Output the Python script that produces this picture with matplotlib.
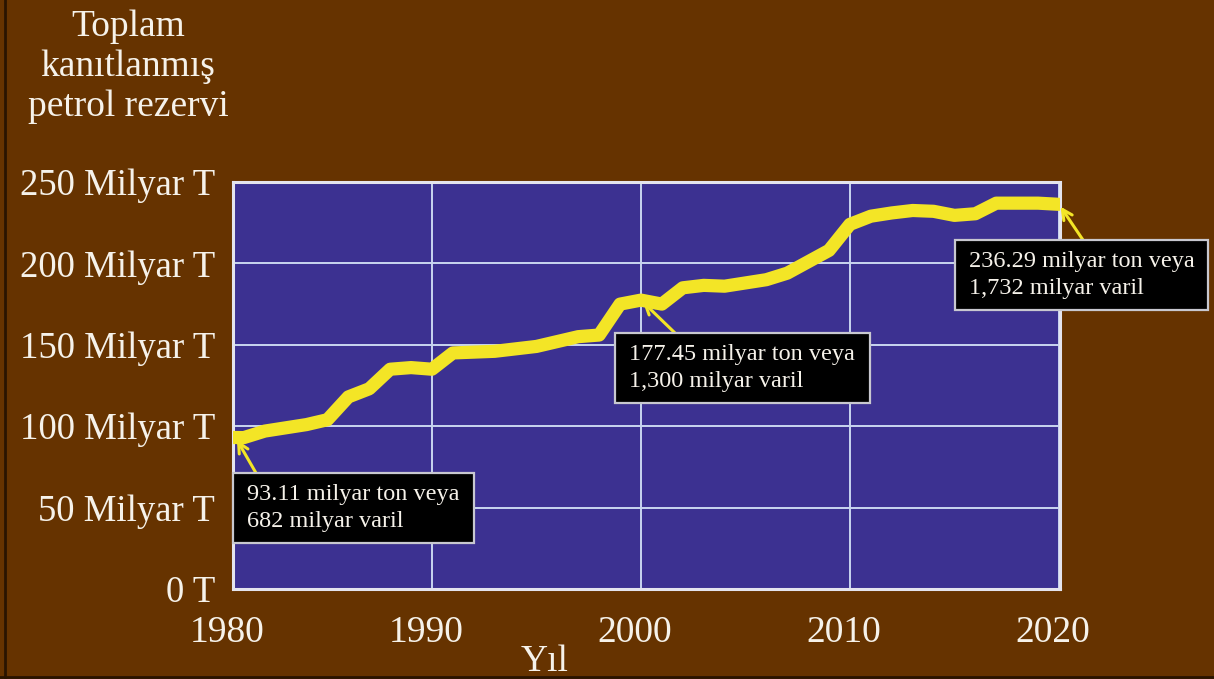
import matplotlib
matplotlib.use("Agg")
import matplotlib.pyplot as plt
import matplotlib.transforms as mtransforms
from matplotlib.lines import Line2D

years = list(range(1980, 2021))
reserves = [93.11, 93, 97, 99, 101, 104, 118, 123, 135, 136,
            135, 145, 145.5, 146, 147.5, 149, 152, 155, 156, 175,
            177.45, 175, 185, 186.5, 186, 188, 190, 194, 201, 208,
            224, 229, 231, 232.5, 232, 229.5, 230.5, 237, 237, 237,
            236.29]

y_ticks = [0, 50, 100, 150, 200, 250]
y_labels = ["0 T", "50 Milyar T", "100 Milyar T", "150 Milyar T", "200 Milyar T", "250 Milyar T"]
x_ticks = [1990, 2000, 2010, 2020]
x_labels = ["1980", "1990", "2000", "2010", "2020"]

notes = [
    (1980.6, 93.11, "93.11 milyar ton veya\n682 milyar varil"),
    (2000, 177.45, "177.45 milyar ton veya\n1,300 milyar varil"),
    (2020, 236.29, "236.29 milyar ton veya\n1,732 milyar varil"),
]

BROWN = "#663300"
BLUE = "#3c3191"
YELLOW = "#f3e526"
TXT = "#f6f2ea"
FONT = "Liberation Serif"

W, H = 1214, 679
fig = plt.figure(figsize=(W / 100, H / 100), dpi=100, facecolor=BROWN)
ax = fig.add_axes([233 / W, 1 - 589 / H, (1060 - 233) / W, (589 - 182) / H])
ax.set_facecolor(BLUE)

xmin, xmax = 1980.48, 2020.05
ax.set_xlim(xmin, xmax)
ax.set_ylim(0, 250)

ax.plot(years, reserves, color=YELLOW, lw=9.5, solid_joinstyle="round",
        solid_capstyle="round", zorder=3)

ax.set_xticks([xmin] + x_ticks)
ax.set_xticklabels(x_labels, fontsize=27, color=TXT, family=FONT)
ax.set_yticks(y_ticks)
ax.set_yticklabels(y_labels, fontsize=26.5, color=TXT, family=FONT)
ax.tick_params(axis="x", length=0, pad=19)
ax.tick_params(axis="y", length=0, pad=13)
offset = mtransforms.ScaledTranslation(-6 / 100, 0, fig.dpi_scale_trans)
for lab in ax.get_xticklabels():
    lab.set_transform(lab.get_transform() + offset)

ax.grid(True, color="#c9d6f0", lw=1.4)
ax.set_axisbelow(True)
for s in ax.spines.values():
    s.set_color("#e4e4ee")
    s.set_linewidth(2.2)

# annotation boxes: (left, top, right, bottom) in image pixels, arrow start
boxes = [(233, 473, 474, 543, 256), (615, 333, 870, 403, 675), (955, 240, 1208, 310, 1083)]
for (xd, yd, txt), (l, t, r, b, ax0) in zip(notes, boxes):
    rect = plt.Rectangle((l / W, 1 - b / H), (r - l) / W, (b - t) / H,
                         transform=fig.transFigure, facecolor="black",
                         edgecolor="#c8c8d0", lw=1.6, zorder=5)
    fig.patches.append(rect)
    fig.text((l + 14) / W, 1 - (t + b) / 2 / H, txt, fontsize=17.5, color=TXT,
             family=FONT, va="center", ha="left", linespacing=1.33, zorder=6)
    ax.annotate("", xy=(xd, yd), xycoords="data",
                xytext=(ax0, H - t), textcoords="figure pixels",
                arrowprops=dict(arrowstyle="->", color=YELLOW, lw=2.2,
                                shrinkA=0, shrinkB=2, mutation_scale=18),
                annotation_clip=False, zorder=4)

fig.text(128 / W, 1 - 10 / H, "Toplam\nkanıtlanmış\npetrol rezervi", fontsize=27,
         color=TXT, family=FONT, ha="center", va="top", linespacing=1.2)
fig.text(545 / W, 1 - 671 / H, "Yıl", fontsize=27, color=TXT, family=FONT,
         ha="center", va="baseline")

fig.add_artist(Line2D([5 / W, 5 / W], [0, 1], transform=fig.transFigure, color="#2a1400", lw=2))
fig.add_artist(Line2D([0, 1], [2 / H, 2 / H], transform=fig.transFigure, color="#2a1400", lw=2))

fig.savefig("out.png", dpi=100, facecolor=BROWN)
